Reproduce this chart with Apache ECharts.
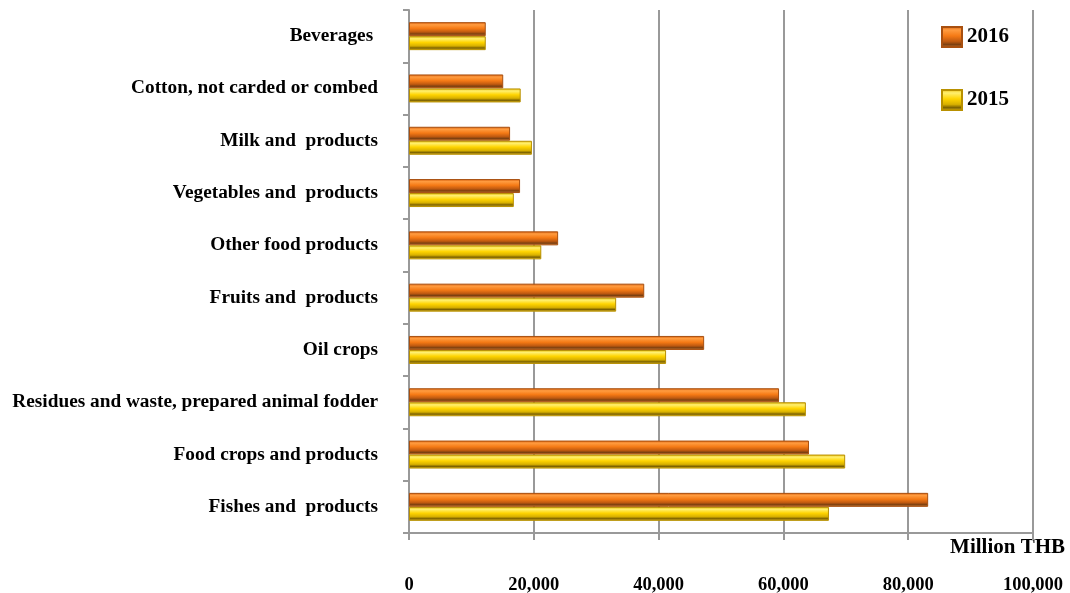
<!DOCTYPE html>
<html><head><meta charset="utf-8">
<script src="https://cdn.jsdelivr.net/npm/echarts@6/dist/echarts.min.js"></script>
<style>html,body{margin:0;padding:0;background:#fff}#c{width:1070px;height:593px}</style>
</head><body><div id="c"></div>
<script>
const categories = ["Fishes and  products","Food crops and products","Residues and waste, prepared animal fodder","Oil crops","Fruits and  products","Other food products","Vegetables and  products","Milk and  products","Cotton, not carded or combed","Beverages "];
const values2016 = [83200, 64100, 59300, 47300, 37700, 23900, 17800, 16200, 15100, 12300];
const values2015 = [67300, 69900, 63600, 41200, 33200, 21200, 16800, 19700, 17900, 12300];
const xTicks = [0, 20000, 40000, 60000, 80000, 100000];

const font = '"Liberation Serif","Times New Roman",serif';
function grad(stops){return {type:'linear',x:0,y:0,x2:0,y2:1,colorStops:stops.map(s=>({offset:s[0],color:s[1]}))};}
const g2016 = grad([[0,'#d85a08'],[0.18,'#ff9c40'],[0.45,'#f57a15'],[0.7,'#c05a10'],[0.85,'#7a3f10'],[1,'#e08a40']]);
const g2015 = grad([[0,'#e8b800'],[0.18,'#fff070'],[0.45,'#ffd400'],[0.7,'#d8b000'],[0.85,'#7a6000'],[1,'#f0c830']]);

const chart = echarts.init(document.getElementById('c'));
chart.setOption({
  animation:false,
  grid:{left:409,right:37,top:10,bottom:60,containLabel:false,outerBoundsMode:'none'},
  legend:{
    data:['2016','2015'], orient:'vertical', left:936, top:21, itemGap:41,
    itemWidth:20, itemHeight:20, icon:'rect',
    textStyle:{fontFamily:font,fontWeight:'bold',fontSize:21,color:'#000'}
  },
  xAxis:{
    type:'value', min:0, max:100000, interval:20000,
    axisLine:{show:true,lineStyle:{color:'#999',width:2}},
    axisTick:{show:true,length:7,lineStyle:{color:'#999',width:2}},
    splitLine:{show:true,lineStyle:{color:'#999',width:2}},
    axisLabel:{margin:43,fontFamily:font,fontWeight:'bold',fontSize:18.5,color:'#000',
      formatter:v=>xTicks.includes(v)?v.toLocaleString('en-US'):''}
  },
  yAxis:{
    type:'category', data:categories,
    axisLine:{show:true,lineStyle:{color:'#999',width:2}},
    axisTick:{show:true,length:6,lineStyle:{color:'#999',width:2}},
    axisLabel:{margin:31,fontFamily:font,fontWeight:'bold',fontSize:19.3,color:'#000'}
  },
  graphic:[{type:'text',right:5,top:537,style:{text:'Million THB',font:'bold 21px '+font,fill:'#000'}}],
  series:[
    {name:'2016',type:'bar',data:values2016,barWidth:14,barGap:'0%',
      itemStyle:{color:g2016,borderColor:'#a85010',borderWidth:1}},
    {name:'2015',type:'bar',data:values2015,barWidth:14,barGap:'0%',
      itemStyle:{color:g2015,borderColor:'#b89000',borderWidth:1}}
  ]
});
</script></body></html>
